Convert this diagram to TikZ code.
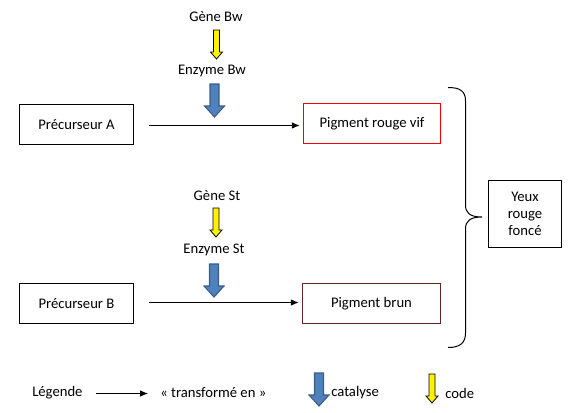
\documentclass[tikz,border=0pt]{standalone}
\usepackage{fontspec}
\setmainfont{Carlito}
\usetikzlibrary{arrows.meta}
\definecolor{bluefill}{HTML}{4F81BD}
\definecolor{blueedge}{HTML}{385D8A}
\definecolor{brownedge}{HTML}{632523}
\definecolor{rededge}{HTML}{FF0000}
\tikzset{
  txt/.style={font=\fontsize{11pt}{13pt}\selectfont, inner sep=0pt},
  framed/.style={line width=0.75pt, txt},
  box/.style={framed, draw=black, minimum width=85.5pt, minimum height=30pt},
  redbox/.style={framed, line width=1.1pt, draw=rededge, minimum width=102.75pt, minimum height=30pt},
  brownbox/.style={framed, line width=1.1pt, draw=brownedge, minimum width=103.5pt, minimum height=30pt},
  conn/.style={line width=0.75pt, -{Latex[length=6pt,width=5pt]}},
  bluearr/.pic={\path[fill=bluefill, draw=blueedge, line width=0.8pt]
     (-4.5,0) -- (4.5,0) -- (4.5,22) -- (10,22) -- (0,33) -- (-10,22) -- (-4.5,22) -- cycle;},
  yelarr/.pic={\path[fill=yellow, draw=black, line width=0.6pt]
     (-3,0) -- (3,0) -- (3,22) -- (6,22) -- (0,29) -- (-6,22) -- (-3,22) -- cycle;},
}
\begin{document}
\begin{tikzpicture}[x=0.75pt, y=-0.75pt]
\useasboundingbox (0,0) rectangle (575,412);
% boxes
\node[box] (pa) at (76.5,124.5) {Précurseur A};
\node[box] (pb) at (76.5,303.5) {Précurseur B};
\node[redbox] (prv) at (372,123.5) {Pigment rouge vif};
\node[brownbox] (pbr) at (371.5,303.5) {Pigment brun};
\node[framed, draw=black, align=center, minimum width=54.75pt, minimum height=50.25pt] (yeux) at (525,214) {Yeux\\rouge\\foncé};
% main arrows
\draw[conn, shorten <=11.25pt, shorten >=2.25pt] (pa.east |- 0,125.5) coordinate (a1) -- (prv.west |- 0,125.5) coordinate (a2);
\draw[conn, shorten <=11.25pt, shorten >=2.25pt] (pb.east |- 0,302.5) coordinate (b1) -- (pbr.west |- 0,302.5) coordinate (b2);
% genes / enzymes
\node[txt] (gbw) at (216,17) {Gène Bw};
\pic at (216.5,30) {yelarr};
\node[txt] (ebw) at (212,71) {Enzyme Bw};
\pic at (214.5,84) {bluearr};
\node[txt] (gst) at (217,196) {Gène St};
\pic at (216,208) {yelarr};
\node[txt] (est) at (214,250) {Enzyme St};
\pic at (214,264) {bluearr};
% brace
\draw[line width=0.75pt] (448,87.5) .. controls (460,87.5) and (465.5,91) .. (465.5,101)
  -- (465.5,205) .. controls (465.5,213) and (470,217) .. (482,217)
  .. controls (470,217) and (465.5,221) .. (465.5,229)
  -- (465.5,333) .. controls (465.5,343) and (460,347.5) .. (448,347.5);
% legend
\node[txt, anchor=west] (leg) at (32,393) {Légende};
\coordinate (l1) at (96,393.5);
\coordinate (l2) at (148,393.5);
\draw[conn] (l1) -- (l2);
\node[txt, anchor=west] (tr) at (160,393) {« transformé en »};
\pic at (319,373) {bluearr};
\node[txt, anchor=west] (cat) at (331,393) {catalyse};
\pic at (432,374) {yelarr};
\node[txt, anchor=west] (cod) at (445,393) {code};
\end{tikzpicture}
\end{document}
